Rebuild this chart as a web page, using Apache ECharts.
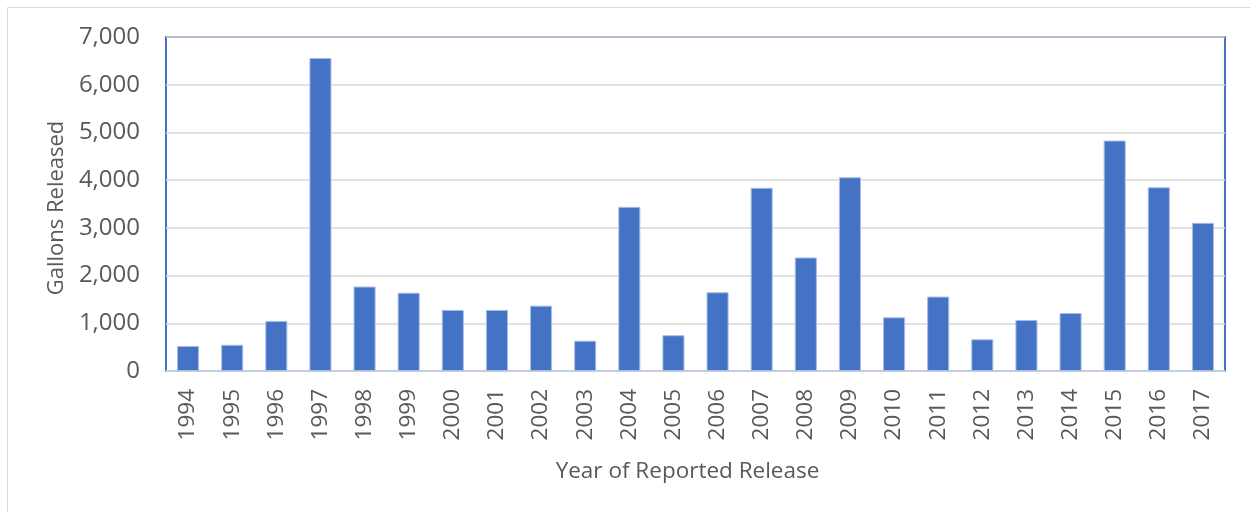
<!DOCTYPE html>
<html><head><meta charset="utf-8">
<script src="https://cdn.jsdelivr.net/npm/echarts@6/dist/echarts.min.js"></script>
<style>html,body{margin:0;padding:0;background:#fff}#c{width:1250px;height:512px}</style>
</head><body><div id="c"></div>
<script>
const years = ['1994','1995','1996','1997','1998','1999','2000','2001','2002','2003','2004','2005','2006','2007','2008','2009','2010','2011','2012','2013','2014','2015','2016','2017'];
const gallons = [525,550,1050,6560,1770,1640,1280,1280,1370,635,3440,750,1650,3840,2380,4060,1125,1560,665,1070,1215,4830,3850,3105];
const yTicks = {min:0, max:7000, interval:1000};
const FONT = 'Open Sans';
const chart = echarts.init(document.getElementById('c'));
chart.setOption({
  animation:false,
  graphic:[{type:'rect',shape:{x:7.5,y:7.5,width:1260,height:520},style:{fill:'none',stroke:'#D9D9D9',lineWidth:1}}],
  grid:{left:166,top:37,right:25,bottom:141,show:true,borderColor:'#4472C4',borderWidth:2,backgroundColor:'transparent'},
  xAxis:{type:'category',data:years,
    axisLine:{show:true,lineStyle:{color:'#C9D3E3',width:1.5}},
    axisTick:{show:false},
    axisLabel:{rotate:90,color:'#595959',fontSize:22.5,fontFamily:FONT,margin:18},
    name:'Year of Reported Release',nameLocation:'middle',nameGap:89,
    nameTextStyle:{color:'#595959',fontSize:22.5,fontFamily:FONT,padding:[0,16,0,0]}},
  yAxis:{type:'value',min:yTicks.min,max:yTicks.max,interval:yTicks.interval,
    axisLine:{show:false},axisTick:{show:false},
    splitLine:{lineStyle:{color:'#D9D9D9',width:1.5}},
    axisLabel:{color:'#595959',fontSize:24,fontFamily:FONT,margin:26,
      formatter:v=>v.toLocaleString('en-US')},
    name:'Gallons Released',nameLocation:'middle',nameGap:95,
    nameTextStyle:{color:'#595959',fontSize:22,fontFamily:FONT,padding:[0,8,0,0]}},
  series:[{type:'bar',data:gallons,barWidth:'50%',
    itemStyle:{color:'#4472C4',borderColor:'#A9BDE6',borderWidth:1}}]
});
</script></body></html>
